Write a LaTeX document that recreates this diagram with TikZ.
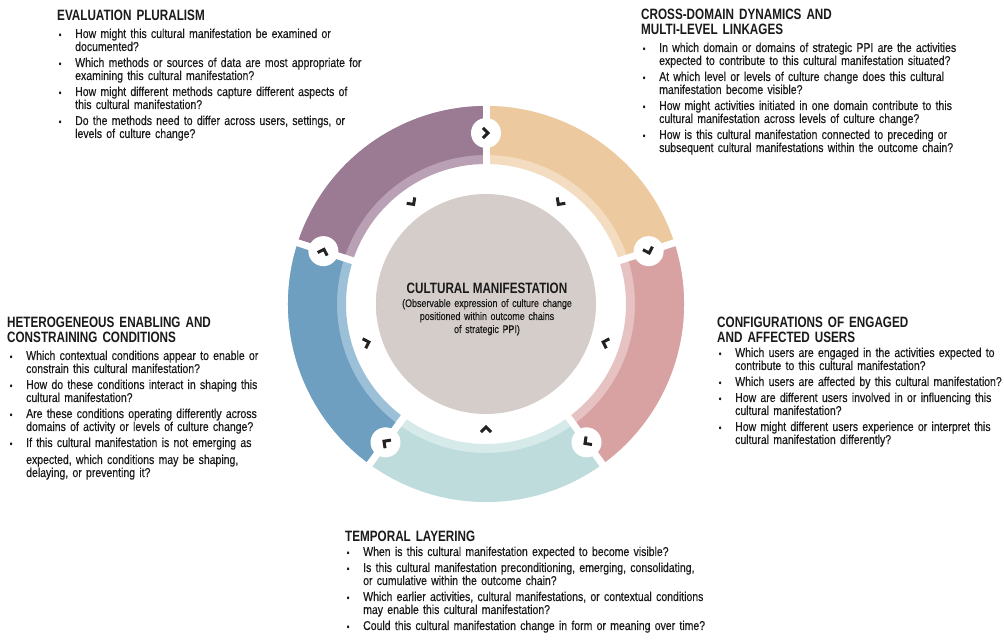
\documentclass[tikz,border=0pt]{standalone}
\usepackage{fontspec}
\setmainfont{Liberation Sans}[FakeStretch=0.82, FakeBold=0.3]
\newfontfamily\headfont{Liberation Sans}[FakeStretch=0.78]
\newfontfamily\subfont{Liberation Sans}[FakeStretch=0.81, FakeBold=0.3]
\definecolor{txt}{HTML}{1A1A1A}
\definecolor{chevc}{HTML}{222222}
\definecolor{purp}{HTML}{9B7A94}
\definecolor{purpL}{HTML}{B9A0B4}
\definecolor{peach}{HTML}{ECC99E}
\definecolor{peachL}{HTML}{F3DCC0}
\definecolor{pink}{HTML}{D8A2A2}
\definecolor{pinkL}{HTML}{E7C2C2}
\definecolor{teal}{HTML}{BFDCDC}
\definecolor{tealL}{HTML}{D6EAEA}
\definecolor{blue}{HTML}{6E9FC0}
\definecolor{blueL}{HTML}{9CC0D8}
\definecolor{diskC}{HTML}{D5CDCA}
\definecolor{diskE}{HTML}{C6BBB8}
\definecolor{diskR}{HTML}{CFC6C3}
\pgfdeclareradialshading{diskshade}{\pgfpoint{0bp}{0bp}}{color(0bp)=(diskC); color(28bp)=(diskC); color(46bp)=(diskE); color(50bp)=(diskR)}
\newlength\qind \setlength\qind{17pt}
\newcommand\qbul{\makebox[\qind][l]{\hspace{0.5pt}\scalebox{0.75}{\textbullet}}}
\newcommand\qitem[1]{\qbul\hangindent=\qind\hangafter=1 #1\par\vspace{3pt}}
\tikzset{
  qblock/.style={anchor=base west, inner sep=0pt, text width=#1, align=left,
    font=\fontsize{12.8}{13}\selectfont, text=txt},
  qhead/.style={anchor=base west, inner sep=0pt, text width=330pt, align=left,
    font=\headfont\bfseries\fontsize{15}{14.5}\selectfont, text=txt},
  chev/.pic={\draw[line width=3pt, color=chevc, miter limit=10] (-3.1,5) -- (1.9,0) -- (-3.1,-5);}
}
\begin{document}
\begin{tikzpicture}[x=1pt,y=1pt]
\useasboundingbox (0,0) rectangle (1004,642);
\fill[white] (0,0) rectangle (1004,642);
% ring
\begin{scope}[shift={(486,338)}]
  \foreach \a/\c/\l [evaluate=\a as \b using \a+72] in {90/purp/purpL, 18/peach/peachL, -54/pink/pinkL, -126/teal/tealL, -198/blue/blueL}{
    \fill[\l] (\a:198) arc[start angle=\a, end angle=\b, radius=198pt] -- (\b:140) arc[start angle=\b, end angle=\a, radius=140pt] -- cycle;
    \fill[\c] (\a:198) arc[start angle=\a, end angle=\b, radius=198pt] -- (\b:149) arc[start angle=\b, end angle=\a, radius=149pt] -- cycle;
  }
  \foreach \g in {90,18,-54,-126,162}{
    \draw[white, line width=7pt] (\g:130) -- (\g:206);
    \fill[white] (\g:171) circle (15pt);
    \pic[rotate=\g-90] at (\g:171) {chev};
  }
  \foreach \m in {126,54,-18,-90,198}{
    \pic[rotate=\m+180] at (\m:125) {chev};
  }
  \path[shading=diskshade] (0,0) circle (110pt);
\end{scope}
% centre text
\node[anchor=base, inner sep=0pt, font=\headfont\bfseries\fontsize{15}{14.5}\selectfont, text=txt] (ctitle) at (487,348) {CULTURAL MANIFESTATION};
\node[anchor=base, inner sep=0pt, text width=220pt, align=center, font=\subfont\fontsize{11}{13}\selectfont, text=txt] (csub) at (487,335) {(Observable expression of culture change\\positioned within outcome chains\\of strategic PPI)};
% Evaluation pluralism
\node[qhead] (h1) at (57,621) {EVALUATION PLURALISM};
\node[qblock=320pt] (l1) at (58,604) {%
\qitem{How might this cultural manifestation be examined or\newline documented?}%
\qitem{Which methods or sources of data are most appropriate for\newline examining this cultural manifestation?}%
\qitem{How might different methods capture different aspects of\newline this cultural manifestation?}%
\qitem{Do the methods need to differ across users, settings, or\newline levels of culture change?}};
% Cross-domain
\node[qhead] (h2) at (641,622) {CROSS-DOMAIN DYNAMICS AND\\MULTI-LEVEL LINKAGES};
\node[qblock=362pt] (l2) at (642,590) {%
\qitem{In which domain or domains of strategic PPI are the activities\newline expected to contribute to this cultural manifestation situated?}%
\qitem{At which level or levels of culture change does this cultural\newline manifestation become visible?}%
\qitem{How might activities initiated in one domain contribute to this\newline cultural manifestation across levels of culture change?}%
\qitem{How is this cultural manifestation connected to preceding or\newline subsequent cultural manifestations within the outcome chain?}};
% Heterogeneous
\node[qhead] (h3) at (7,314) {HETEROGENEOUS ENABLING AND\\CONSTRAINING CONDITIONS};
\node[qblock=300pt] (l3) at (9,282) {%
\qitem{Which contextual conditions appear to enable or\newline constrain this cultural manifestation?}%
\qitem{How do these conditions interact in shaping this\newline cultural manifestation?}%
\qitem{Are these conditions operating differently across\newline domains of activity or levels of culture change?}%
\qitem{If this cultural manifestation is not emerging as\vadjust{\kern4pt}\newline expected, which conditions may be shaping,\newline delaying, or preventing it?}};
% Configurations
\node[qhead] (h4) at (717,314) {CONFIGURATIONS OF ENGAGED\\AND AFFECTED USERS};
\node[qblock=286pt] (l4) at (718,285) {%
\qitem{Which users are engaged in the activities expected to\newline contribute to this cultural manifestation?}%
\qitem{Which users are affected by this cultural manifestation?}%
\qitem{How are different users involved in or influencing this\newline cultural manifestation?}%
\qitem{How might different users experience or interpret this\newline cultural manifestation differently?}};
% Temporal
\node[qhead] (h5) at (345,100) {TEMPORAL LAYERING};
\node[qblock=400pt] (l5) at (346,86) {%
\qitem{When is this cultural manifestation expected to become visible?}%
\qitem{Is this cultural manifestation preconditioning, emerging, consolidating,\newline or cumulative within the outcome chain?}%
\qitem{Which earlier activities, cultural manifestations, or contextual conditions\newline may enable this cultural manifestation?}%
\qitem{Could this cultural manifestation change in form or meaning over time?}};
\end{tikzpicture}
\end{document}
